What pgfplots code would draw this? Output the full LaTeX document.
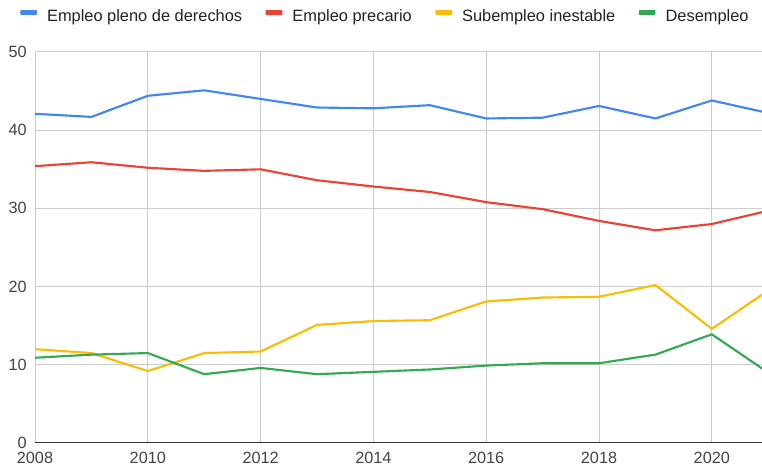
\documentclass[border=0pt]{standalone}
\usepackage{fontspec}
\setmainfont{Liberation Sans}
\usepackage{pgfplots}
\pgfplotsset{compat=1.18}
\definecolor{cblue}{HTML}{4285F4}
\definecolor{cred}{HTML}{EA4335}
\definecolor{cyellow}{HTML}{FBBC04}
\definecolor{cgreen}{HTML}{34A853}
\definecolor{gridc}{HTML}{CCCCCC}
\definecolor{basec}{HTML}{333333}
\definecolor{tickc}{HTML}{444444}
\definecolor{legc}{HTML}{222222}
\begin{document}
\begin{tikzpicture}
\begin{axis}[
 scale only axis, width=545.25pt, height=293.25pt,
 xmin=2008, xmax=2020.89, ymin=0, ymax=50,
 xtick={2008,2010,...,2020}, ytick={0,10,...,50},
 /pgf/number format/1000 sep={},
 /pgf/number format/assume math mode=true,
 grid=major, major grid style={color=gridc, line width=0.75pt},
 axis line style={draw=none},
 major tick length=0pt,
 tick label style={font=\fontsize{12.2}{14}\selectfont, text=tickc},
 yticklabel style={anchor=east, inner sep=0pt, xshift=-6pt},
 xticklabel style={anchor=north, inner sep=0pt, yshift=-6.75pt},
 extra y ticks={0}, extra y tick labels={},
 extra y tick style={grid=major, major grid style={color=basec, line width=0.75pt}},
 legend columns=4,
 legend cell align=left,
 legend style={draw=none, fill=none, at={(rel axis cs:-0.0206,1.0895)}, anchor=west,
   inner sep=0pt, font=\fontsize{12.3}{14}\selectfont, text=legc, nodes={inner sep=0pt},
   /tikz/every odd column/.append style={column sep=7.6pt},
   /tikz/every even column/.append style={column sep=17.6pt}},
 legend image code/.code={\fill[#1, draw=none, rounded corners=0.5pt] (0pt,1.6pt) rectangle (12.5pt,5.2pt);},
 every axis plot/.append style={line width=1.6pt, line join=round},
]
\addplot[cblue] coordinates {(2008,42.1) (2009,41.7) (2010,44.4) (2011,45.1) (2012,44.0) (2013,42.9) (2014,42.8) (2015,43.2) (2016,41.5) (2017,41.6) (2018,43.1) (2019,41.5) (2020,43.8) (2021,42.2)};
\addlegendentry{Empleo pleno de derechos}
\addplot[cred] coordinates {(2008,35.4) (2009,35.9) (2010,35.2) (2011,34.8) (2012,35.0) (2013,33.6) (2014,32.8) (2015,32.1) (2016,30.8) (2017,29.9) (2018,28.4) (2019,27.2) (2020,28.0) (2021,29.7)};
\addlegendentry{Empleo precario}
\addplot[cyellow] coordinates {(2008,12.0) (2009,11.5) (2010,9.2) (2011,11.5) (2012,11.7) (2013,15.1) (2014,15.6) (2015,15.7) (2016,18.1) (2017,18.6) (2018,18.7) (2019,20.2) (2020,14.6) (2021,19.5)};
\addlegendentry{Subempleo inestable}
\addplot[cgreen] coordinates {(2008,10.9) (2009,11.3) (2010,11.5) (2011,8.8) (2012,9.6) (2013,8.8) (2014,9.1) (2015,9.4) (2016,9.9) (2017,10.2) (2018,10.2) (2019,11.3) (2020,13.9) (2021,9.0)};
\addlegendentry{Desempleo}
\end{axis}
\pgfresetboundingbox
\useasboundingbox (-26.25pt,-17.25pt) rectangle (545.25pt,332.25pt);
\end{tikzpicture}
\end{document}
